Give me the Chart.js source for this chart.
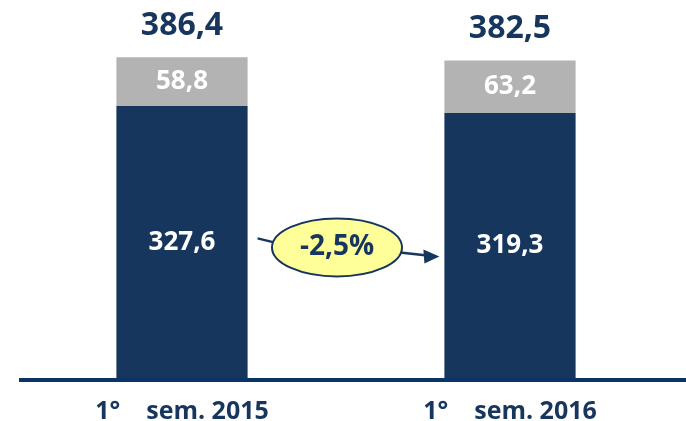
<!DOCTYPE html>
<html>
<head>
<meta charset="utf-8">
<script src="https://cdn.jsdelivr.net/npm/chart.js@4.4.0/dist/chart.umd.min.js"></script>
<style>
  html, body { margin: 0; padding: 0; background: #ffffff; }
  #wrap { width: 686px; height: 421px; position: relative; }
</style>
</head>
<body>
<div id="wrap"><canvas id="chart"></canvas></div>
<script>
// Chart data
const categories = ['1°    sem. 2015', '1°    sem. 2016'];
const baseValues = [327.6, 319.3];
const otherValues = [58.8, 63.2];
const totals = [386.4, 382.5];
const changeLabel = '-2,5%';

const NAVY = '#17365D';
const GRAY = '#B3B3B3';
const FONT = '"Open Sans", Lato, sans-serif';

function fmt(v) {
    return v.toFixed(1).replace('.', ',');
}

// Labels inside the bars and totals above them
const labelPlugin = {
    id: 'barLabels',
    afterDatasetsDraw(chart) {
        const ctx = chart.ctx;
        ctx.save();
        ctx.textAlign = 'center';
        ctx.textBaseline = 'middle';
        ctx.fillStyle = '#ffffff';
        ctx.font = 'bold 26px ' + FONT;
        chart.data.datasets.forEach((ds, di) => {
            chart.getDatasetMeta(di).data.forEach((bar, i) => {
                const mid = (bar.y + bar.base) / 2;
                ctx.fillText(fmt(ds.data[i]), bar.x, mid);
            });
        });
        // totals
        ctx.fillStyle = NAVY;
        ctx.font = 'bold 32px ' + FONT;
        chart.getDatasetMeta(1).data.forEach((bar, i) => {
            ctx.fillText(fmt(totals[i]), bar.x, bar.y - 31);
        });
        ctx.restore();
    }
};

// Axis line and the change bubble with arrow
const annotationPlugin = {
    id: 'annot',
    afterDraw(chart) {
        const ctx = chart.ctx;
        const area = chart.chartArea;
        const y = chart.scales.y;
        const b1 = chart.getDatasetMeta(0).data[0];
        const b2 = chart.getDatasetMeta(0).data[1];
        const right1 = b1.x + b1.width / 2;
        const left2 = b2.x - b2.width / 2;

        ctx.save();
        // base line
        ctx.strokeStyle = '#0B3466';
        ctx.lineWidth = 4;
        ctx.beginPath();
        ctx.moveTo(19, area.bottom + 1);
        ctx.lineTo(chart.width, area.bottom + 1);
        ctx.stroke();

        // bubble
        const cx = (right1 + left2) / 2 - 9;
        const cy = y.getPixelForValue(158);
        const rx = 65, ry = 29;

        ctx.strokeStyle = NAVY;
        ctx.lineWidth = 2.5;
        ctx.beginPath();
        ctx.moveTo(right1 + 10, cy - 9);
        ctx.lineTo(cx - rx + 2, cy - 5);
        ctx.stroke();

        const tipX = left2 - 5;
        const tipY = cy + 9;
        ctx.beginPath();
        ctx.moveTo(cx + rx - 2, cy + 5);
        ctx.lineTo(tipX - 12, tipY - 1);
        ctx.stroke();
        ctx.fillStyle = NAVY;
        ctx.beginPath();
        ctx.moveTo(tipX, tipY);
        ctx.lineTo(tipX - 16, tipY - 7);
        ctx.lineTo(tipX - 15, tipY + 7);
        ctx.closePath();
        ctx.fill();

        ctx.fillStyle = '#FFFF99';
        ctx.lineWidth = 2;
        ctx.beginPath();
        ctx.ellipse(cx, cy, rx, ry, 0, 0, Math.PI * 2);
        ctx.fill();
        ctx.stroke();

        ctx.fillStyle = NAVY;
        ctx.font = 'bold 28px ' + FONT;
        ctx.textAlign = 'center';
        ctx.textBaseline = 'middle';
        ctx.fillText(changeLabel, cx, cy);
        ctx.restore();
    }
};

const ctx = document.getElementById('chart').getContext('2d');
new Chart(ctx, {
    type: 'bar',
    data: {
        labels: categories,
        datasets: [
            {
                label: 'base',
                data: baseValues,
                backgroundColor: NAVY,
                borderWidth: 0,
                barPercentage: 0.4,
                categoryPercentage: 1.0
            },
            {
                label: 'other',
                data: otherValues,
                backgroundColor: GRAY,
                borderWidth: 0,
                barPercentage: 0.4,
                categoryPercentage: 1.0
            }
        ]
    },
    options: {
        responsive: true,
        maintainAspectRatio: false,
        animation: false,
        layout: {
            padding: { left: 18, right: 12, top: 0, bottom: 0 }
        },
        plugins: {
            legend: { display: false },
            tooltip: { enabled: false }
        },
        scales: {
            x: {
                stacked: true,
                grid: { display: false },
                border: { display: false },
                afterFit: (scale) => { scale.height = 42; },
                ticks: {
                    color: NAVY,
                    padding: 12,
                    font: { family: FONT, size: 25, weight: 'bold', lineHeight: 1 }
                }
            },
            y: {
                stacked: true,
                display: false,
                min: 0,
                max: 455
            }
        }
    },
    plugins: [labelPlugin, annotationPlugin]
});
</script>
</body>
</html>
